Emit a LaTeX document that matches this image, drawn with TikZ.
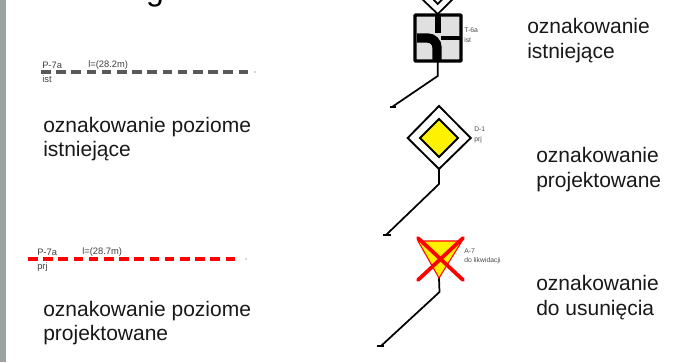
\documentclass[tikz,border=0pt]{standalone}
\usepackage{fontspec}
\setmainfont{Liberation Sans}
\definecolor{pasek}{HTML}{9AA3A1}
\tikzset{
    opis/.style={anchor=west, align=left, font=\fontsize{15.75}{18.6}\selectfont, text=black!90, inner sep=0pt},
    etykieta/.style={anchor=west, font=\fontsize{7}{8}\selectfont, text=black!75, inner sep=0pt},
    znaklabel/.style={anchor=west, font=\fontsize{5.1}{6}\selectfont, text=black!70, inner sep=0pt},
    linia/.style={line width=3.2pt, dash pattern=on 7.2pt off 4.2pt},
    slup/.style={draw=black, line width=1.3pt},
    stopa/.style={draw=black, line width=1.8pt},
    krzyz/.style={draw=red, line width=2.8pt, line cap=round},
}

\begin{document}
\begin{tikzpicture}[x=0.75pt, y=-0.75pt]
    \useasboundingbox (0,0) rectangle (681,362);
    \fill[white] (0,0) rectangle (681,362);
    \fill[pasek] (0,0) rectangle (6,362);
    \node[anchor=base, font=\fontsize{24}{24}\selectfont, inner sep=0pt] (tytul) at (155,0) {g};

    % linia istniejaca
    \coordinate (ist1) at (41,72);
    \coordinate (ist2) at (248,72);
    \draw[linia, draw=black!65] (ist1) -- (ist2);
    \fill[black!65] (255,72) circle (0.6);
    \node[etykieta] (istnazwa) at (42,65) {P-7a};
    \node[etykieta] (istdl) at (88,65) {l=(28.2m)};
    \node[etykieta] (iststan) at (42,79) {ist};
    \node[opis] (istopis) at (43,139) {oznakowanie poziome\\istniejące};

    % linia projektowana
    \coordinate (prj1) at (28,259);
    \coordinate (prj2) at (236,259);
    \draw[linia, draw=red] (prj1) -- (prj2);
    \fill[black!65] (246,259) circle (0.6);
    \node[etykieta] (prjnazwa) at (37,252) {P-7a};
    \node[etykieta] (prjdl) at (82,252) {l=(28.7m)};
    \node[etykieta] (prjstan) at (37,267) {prj};
    \node[opis] (prjopis) at (43,323) {oznakowanie poziome\\projektowane};

    % znak u gory
    \draw[line width=1.3pt] (422,-1) -- (437.7,14) -- (453,-1);
    \draw[line width=1.3pt] (433,-1) -- (437.7,4) -- (442.5,-1);

    % T-6a
    \draw[fill=black!12, line width=2.4pt, rounded corners=0.5pt] (415,15) rectangle (461,61);
    \draw[line width=4.5pt] (437.7,16) -- (437.7,33);
    \draw[line width=2.6pt] (441,38) -- (460,38);
    \draw[line width=7pt, rounded corners=7pt] (417,38) -- (437,38) -- (437,60);
    \coordinate (t6dol) at (437.7,62);
    \coordinate (t6kolano) at (437.7,76);
    \coordinate (t6stopa) at (392,107);
    \draw[slup] (t6dol) -- (t6kolano) -- (t6stopa);
    \draw[stopa] (390,107) -- (396,107);
    \node[znaklabel] (t6nazwa) at (464,30) {T-6a};
    \node[znaklabel] (t6stan) at (464,40) {ist};
    \node[opis] (t6opis) at (527,40.5) {oznakowanie\\istniejące};

    % D-1
    \draw[fill=white, line width=1.4pt] (439,106) -- (470.7,138) -- (439,169) -- (407.7,138) -- cycle;
    \draw[fill=yellow, line width=1.4pt] (439,119) -- (458,138) -- (439,157) -- (420,138) -- cycle;
    \coordinate (d1dol) at (439,169);
    \coordinate (d1kolano) at (439,184);
    \coordinate (d1stopa) at (386,235);
    \draw[slup] (d1dol) -- (d1kolano) -- (d1stopa);
    \draw[stopa] (383,235) -- (391,235);
    \node[znaklabel] (d1nazwa) at (474,129) {D-1};
    \node[znaklabel] (d1stan) at (474,140) {prj};
    \node[opis] (d1opis) at (536,169.5) {oznakowanie\\projektowane};

    % A-7
    \coordinate (a7dol) at (439,278);
    \coordinate (a7kolano) at (439.5,292);
    \coordinate (a7stopa) at (381,346);
    \draw[slup] (a7dol) -- (a7kolano) -- (a7stopa);
    \draw[stopa] (377,346) -- (384,346);
    \draw[fill=yellow, draw=red, line width=0.8pt] (418,241) -- (462,241) -- (439,278) -- cycle;
    \draw[krzyz] (418,238) -- (463,280);
    \draw[krzyz] (463,238) -- (418,280);
    \node[znaklabel] (a7nazwa) at (464,251) {A-7};
    \node[znaklabel] (a7stan) at (464,261) {do likwidacji};
    \node[opis] (a7opis) at (536,297.5) {oznakowanie\\do usunięcia};
\end{tikzpicture}
\end{document}
